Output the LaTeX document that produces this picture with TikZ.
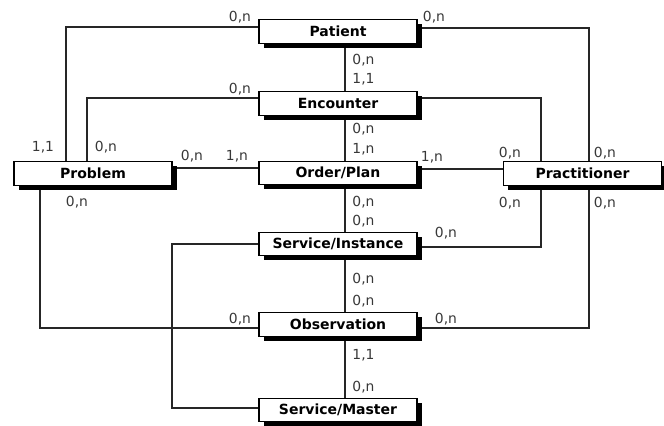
\documentclass[tikz,border=0pt]{standalone}
\usepackage{fontspec}
\setmainfont{DejaVu Sans}
\usetikzlibrary{shadows,backgrounds}
\tikzset{
  ent/.style={draw=black, line width=1.05pt, fill=white, rectangle,
    minimum width=118.5pt, minimum height=17.6pt, inner sep=0pt,
    font=\bfseries\fontsize{10.5}{12}\selectfont,
    drop shadow={shadow xshift=3.4pt, shadow yshift=-3.2pt, fill=black, opacity=1}},
  conn/.style={draw=black!85, line width=1.05pt},
  lbl/.style={font=\fontsize{10.4}{12}\selectfont, text=black!78, inner sep=0pt}
}
\begin{document}
\begin{tikzpicture}[x=0.75pt,y=-0.75pt]
\useasboundingbox (0,0) rectangle (664,425);
\node[ent] (patient) at (338,31.5) {Patient};
\node[ent] (encounter) at (338,103.5) {Encounter};
\node[ent] (order) at (338,173) {Order/Plan};
\node[ent] (problem) at (93,173.5) {Problem};
\node[ent] (practitioner) at (582.5,173.5) {Practitioner};
\node[ent] (instance) at (338,244) {Service/Instance};
\node[ent] (observation) at (338,324.5) {Observation};
\node[ent] (master) at (338,410) {Service/Master};
\begin{scope}[on background layer]
% left side
\draw[conn] (patient.west |- 0,27) -| (problem.north -| 66,0);
\draw[conn] (encounter.west |- 0,98) -| (problem.north -| 87,0);
\draw[conn] (problem.east |- 0,168) -- (order.west |- 0,168);
\draw[conn] (problem.south -| 40,0) |- (observation.west |- 0,328);
% right side
\draw[conn] (patient.east |- 0,28) -| (practitioner.north -| 589,0);
\draw[conn] (encounter.east |- 0,98) -| (practitioner.north -| 541,0);
\draw[conn] (order.east |- 0,169) -- (practitioner.west |- 0,169);
\draw[conn] (practitioner.south -| 541,0) |- (instance.east |- 0,247);
\draw[conn] (practitioner.south -| 589,0) |- (observation.east |- 0,328);
% central chain
\draw[conn] (patient.south -| 345,0) -- (encounter.north -| 345,0);
\draw[conn] (encounter.south -| 345,0) -- (order.north -| 345,0);
\draw[conn] (order.south -| 345,0) -- (instance.north -| 345,0);
\draw[conn] (instance.south -| 345,0) -- (observation.north -| 345,0);
\draw[conn] (observation.south -| 345,0) -- (master.north -| 345,0);
% service instance to master
\draw[conn] (instance.west |- 0,244) -| (172,326) |- (master.west |- 0,408);
\end{scope}
% cardinality labels
\node[lbl] (a1) at (240,17) {0,n};
\node[lbl] (a2) at (434,17) {0,n};
\node[lbl] (a3) at (363.5,60) {0,n};
\node[lbl] (a4) at (363.5,79) {1,1};
\node[lbl] (a5) at (240,89) {0,n};
\node[lbl] (a6) at (363.5,129) {0,n};
\node[lbl] (a7) at (363.5,149) {1,n};
\node[lbl] (a8) at (43,147) {1,1};
\node[lbl] (a9) at (106,147) {0,n};
\node[lbl] (a10) at (192,156) {0,n};
\node[lbl] (a11) at (237,156) {1,n};
\node[lbl] (a12) at (432,157) {1,n};
\node[lbl] (a13) at (510,153) {0,n};
\node[lbl] (a14) at (605,153) {0,n};
\node[lbl] (a15) at (77,202) {0,n};
\node[lbl] (a16) at (363.5,202) {0,n};
\node[lbl] (a17) at (363.5,221) {0,n};
\node[lbl] (a18) at (510,203) {0,n};
\node[lbl] (a19) at (605,203) {0,n};
\node[lbl] (a20) at (446,233) {0,n};
\node[lbl] (a21) at (363.5,279) {0,n};
\node[lbl] (a22) at (363.5,301) {0,n};
\node[lbl] (a23) at (240,319) {0,n};
\node[lbl] (a24) at (446,319) {0,n};
\node[lbl] (a25) at (363.5,355) {1,1};
\node[lbl] (a26) at (363.5,387) {0,n};
\end{tikzpicture}
\end{document}
